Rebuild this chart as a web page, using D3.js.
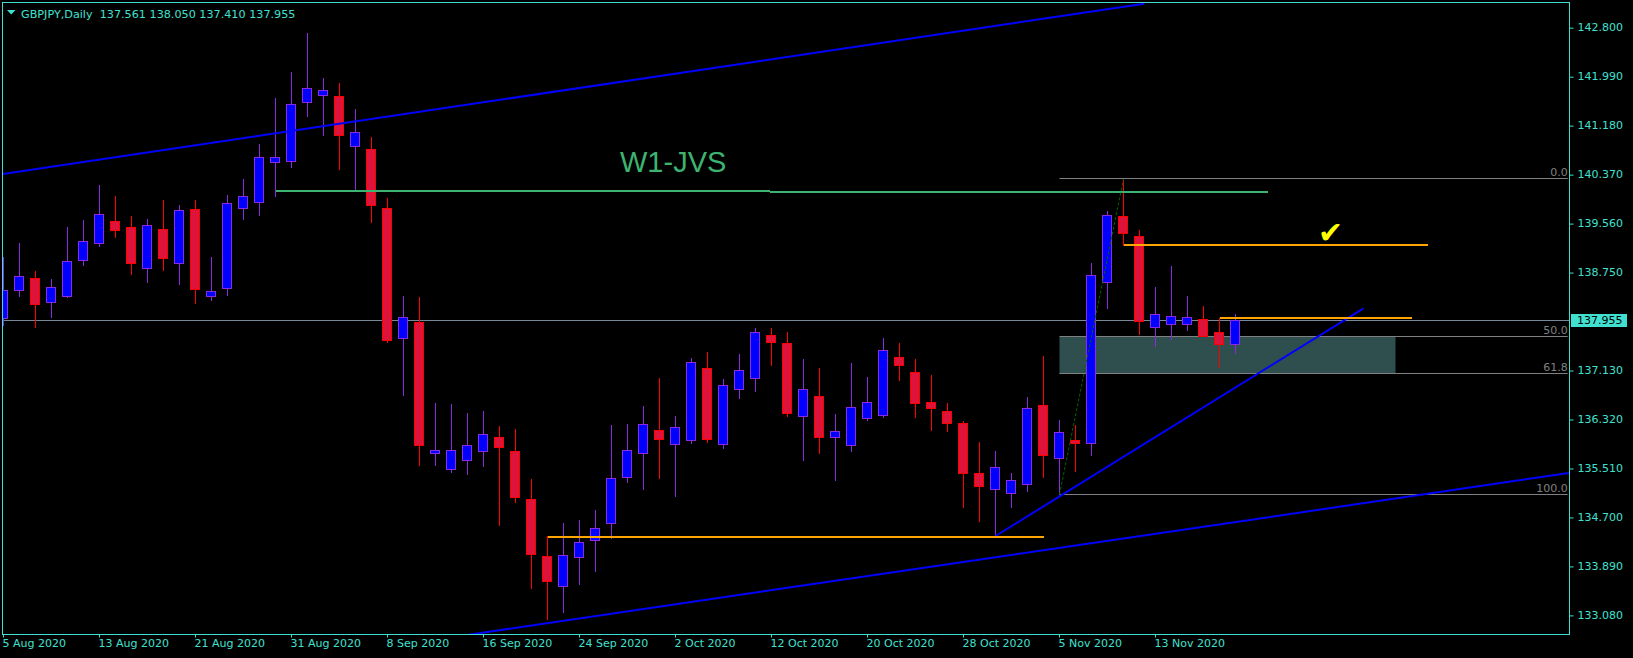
<!DOCTYPE html>
<html><head><meta charset="utf-8">
<script src="https://cdn.jsdelivr.net/npm/d3@7"></script>
<style>
html,body{margin:0;padding:0;background:#000;overflow:hidden;}
svg{display:block;}
</style></head><body>
<svg id="chart" width="1633" height="658"></svg>
<script>
// ---------- data ----------
const dates = ["5 Aug 2020","6 Aug 2020","7 Aug 2020","10 Aug 2020","11 Aug 2020","12 Aug 2020","13 Aug 2020","14 Aug 2020","17 Aug 2020","18 Aug 2020","19 Aug 2020","20 Aug 2020","21 Aug 2020","24 Aug 2020","25 Aug 2020","26 Aug 2020","27 Aug 2020","28 Aug 2020","31 Aug 2020","1 Sep 2020","2 Sep 2020","3 Sep 2020","4 Sep 2020","7 Sep 2020","8 Sep 2020","9 Sep 2020","10 Sep 2020","11 Sep 2020","14 Sep 2020","15 Sep 2020","16 Sep 2020","17 Sep 2020","18 Sep 2020","21 Sep 2020","22 Sep 2020","23 Sep 2020","24 Sep 2020","25 Sep 2020","28 Sep 2020","29 Sep 2020","30 Sep 2020","1 Oct 2020","2 Oct 2020","5 Oct 2020","6 Oct 2020","7 Oct 2020","8 Oct 2020","9 Oct 2020","12 Oct 2020","13 Oct 2020","14 Oct 2020","15 Oct 2020","16 Oct 2020","19 Oct 2020","20 Oct 2020","21 Oct 2020","22 Oct 2020","23 Oct 2020","26 Oct 2020","27 Oct 2020","28 Oct 2020","29 Oct 2020","30 Oct 2020","2 Nov 2020","3 Nov 2020","4 Nov 2020","5 Nov 2020","6 Nov 2020","9 Nov 2020","10 Nov 2020","11 Nov 2020","12 Nov 2020","13 Nov 2020","16 Nov 2020","17 Nov 2020","18 Nov 2020","19 Nov 2020","20 Nov 2020"];
const open  = [137.993,138.456,138.655,138.258,138.357,138.953,139.234,139.598,139.498,138.820,139.465,138.903,139.796,138.357,138.489,139.813,139.912,140.574,140.590,141.566,141.682,141.654,140.838,140.789,139.813,137.663,137.927,135.760,135.496,135.645,135.793,136.025,135.793,135.000,134.057,133.561,134.040,134.321,134.603,135.363,135.760,136.141,135.909,135.975,137.166,135.909,136.819,137.001,137.712,137.580,136.372,136.703,136.025,135.893,136.339,136.389,137.348,137.100,136.604,136.455,136.257,135.430,135.165,135.099,135.248,136.554,135.678,135.975,135.926,138.589,139.680,139.350,137.844,137.894,137.894,137.977,137.762,137.561];
const high  = [139.007,139.239,138.776,138.643,139.503,139.619,140.198,140.016,139.685,139.636,139.950,139.862,139.950,139.007,140.028,140.297,140.860,141.621,142.051,142.707,141.963,141.869,141.439,140.992,139.983,138.362,138.346,136.592,136.576,136.422,136.460,136.212,136.157,135.330,134.381,134.608,134.657,134.823,136.228,136.245,136.543,137.006,136.377,137.332,137.436,136.989,137.403,137.828,137.833,137.767,137.315,137.166,136.410,137.254,137.017,137.667,137.585,137.315,137.055,136.592,136.283,135.942,135.798,135.435,136.692,137.370,136.311,136.228,138.903,139.768,140.292,139.442,138.511,138.858,138.362,138.197,137.993,138.050];
const low   = [137.882,138.351,137.838,138.003,138.334,138.863,139.178,139.326,138.714,138.582,138.781,138.549,138.235,138.284,138.367,139.624,139.690,140.005,140.484,141.328,141.014,140.463,140.115,139.570,137.601,136.725,135.555,135.555,135.440,135.406,135.539,134.563,134.943,133.521,133.020,133.124,133.587,133.802,134.348,135.274,135.158,135.340,135.043,135.926,135.942,135.843,136.670,136.786,137.209,136.366,135.638,135.754,135.307,135.787,136.300,136.349,136.961,136.349,136.134,136.118,134.861,134.629,134.393,134.861,135.125,135.357,135.082,135.456,135.721,138.152,139.206,137.722,137.524,137.646,137.800,137.701,137.176,137.410];
const close = [138.456,138.688,138.225,138.506,138.936,139.267,139.713,139.449,138.903,139.531,138.979,139.780,138.473,138.440,139.895,140.011,140.656,140.656,141.533,141.798,141.764,141.020,141.070,139.856,137.623,138.010,135.893,135.810,135.810,135.893,136.075,135.860,135.026,134.083,133.643,134.073,134.288,134.520,135.347,135.810,136.240,135.992,136.190,137.266,135.992,136.885,137.133,137.762,137.596,136.422,136.819,136.025,136.124,136.521,136.604,137.464,137.216,136.581,136.498,136.257,135.430,135.208,135.529,135.314,136.505,135.727,136.108,135.926,138.704,139.697,139.399,137.944,138.059,138.026,138.010,137.701,137.557,137.955];

const timeTickIndex = [0,6,12,18,24,30,36,42,48,54,60,66,72];
const priceTicks = [142.800,141.990,141.180,140.370,139.560,138.750,137.130,136.320,135.510,134.700,133.890,133.080];
const symbolLabel = "GBPJPY,Daily";
const headerOHLC = [137.561, 138.050, 137.410, 137.955];
const bidPrice = 137.955;

// drawing objects: [barIndex, price]
const channelTop    = [[-0.2, 140.374], [71.3, 143.197]];
const channelBottom = [[29.0, 132.758], [97.84, 135.435]];
const supportLine   = [[62.0, 134.393], [85.0, 138.159]];
const jvsLines      = [
  [[17.0, 140.104], [47.9, 140.104]],
  [[47.9, 140.087], [79.0, 140.087]]
];
const orangeLines   = [
  [[34.0, 134.381], [65.03, 134.381]],
  [[70.0, 139.206], [89.01, 139.206]],
  [[76.03, 138.004], [88.01, 138.004]]
];
const fibAnchor = [[66, 135.080], [70, 140.300]];   // low -> high
const fibLevels = [0, 50, 61.8, 100];
const fibLabels = ["0.0", "50.0", "61.8", "100.0"];
const fibEndIndex = 97.76;
const zoneRange = [66, 87];        // bar span of shaded zone (between 50 and 61.8)
const textLabel = "W1-JVS";
const checkMark = "\u2714";

// ---------- layout ----------
const svg = d3.select("#chart");
const plot = {left: 2, top: 2, right: 1569, bottom: 634};
const AXIS = "#40E0D0";
const x = d3.scaleLinear().domain([0, 77]).range([3.5, 1235.5]);
const y = d3.scaleLinear().domain([133.08, 142.8]).range([615.4, 27.7]);
const snap = v => Math.floor(v) + 0.5;

svg.append("rect").attr("width", 1633).attr("height", 658).attr("fill", "#000");

svg.append("defs").append("clipPath").attr("id", "clip")
  .append("rect").attr("x", plot.left + 1).attr("y", plot.top + 1)
  .attr("width", plot.right - plot.left - 1).attr("height", plot.bottom - plot.top - 1);

const g = svg.append("g").attr("clip-path", "url(#clip)");

// shaded zone
const fibPrice = lv => fibAnchor[1][1] - (fibAnchor[1][1] - fibAnchor[0][1]) * lv / 100;
g.append("rect")
  .attr("x", x(zoneRange[0])).attr("width", x(zoneRange[1]) - x(zoneRange[0]))
  .attr("y", y(fibPrice(50))).attr("height", y(fibPrice(61.8)) - y(fibPrice(50)))
  .attr("fill", "#2F4F4F");

// bid line
g.append("line").attr("x1", plot.left).attr("x2", plot.right)
  .attr("y1", snap(y(bidPrice))).attr("y2", snap(y(bidPrice)))
  .attr("stroke", "#778899").attr("stroke-width", 1);

// fib lines
fibLevels.forEach((lv, k) => {
  const yy = snap(y(fibPrice(lv)));
  g.append("line").attr("x1", x(fibAnchor[0][0])).attr("x2", x(fibEndIndex))
    .attr("y1", yy).attr("y2", yy).attr("stroke", "#808080").attr("stroke-width", 1);
  g.append("text").attr("x", x(fibEndIndex)).attr("y", yy - 2.5)
    .attr("text-anchor", "end").attr("fill", "#808080")
    .attr("font-family", "DejaVu Sans").attr("font-size", 11).text(fibLabels[k]);
});

// candles
const idx = d3.range(open.length);
const UP_EDGE = "#8A2BE2", UP_BODY = "#0000FF", DN_EDGE = "#FF0000", DN_BODY = "#DC143C";
const cg = g.append("g");
cg.selectAll("line.wick").data(idx).join("line")
  .attr("class", "wick")
  .attr("x1", i => x(i)).attr("x2", i => x(i))
  .attr("y1", i => Math.floor(y(high[i]))).attr("y2", i => Math.floor(y(low[i])) + 1)
  .attr("stroke", i => close[i] >= open[i] ? UP_EDGE : DN_EDGE).attr("stroke-width", 1);
cg.selectAll("rect.body").data(idx).join("rect")
  .attr("class", "body")
  .attr("x", i => x(i) - 5).attr("width", 9)
  .attr("y", i => snap(y(Math.max(open[i], close[i]))))
  .attr("height", i => Math.max(1, snap(y(Math.min(open[i], close[i]))) - snap(y(Math.max(open[i], close[i])))))
  .attr("fill", i => close[i] >= open[i] ? UP_BODY : DN_BODY)
  .attr("stroke", i => close[i] >= open[i] ? UP_EDGE : DN_EDGE).attr("stroke-width", 1);

// trend lines
const seg = (pts, color, w, dash) => {
  const l = g.append("line")
    .attr("x1", x(pts[0][0])).attr("y1", y(pts[0][1]))
    .attr("x2", x(pts[1][0])).attr("y2", y(pts[1][1]))
    .attr("stroke", color).attr("stroke-width", w);
  if (dash) l.attr("stroke-dasharray", dash);
  return l;
};
seg(channelTop, "#0000FF", 2);
seg(channelBottom, "#0000FF", 2);
seg(supportLine, "#0000FF", 2);
jvsLines.forEach(p => seg(p, "#3CB371", 2).attr("shape-rendering", "crispEdges"));
orangeLines.forEach(p => seg(p, "#FFA500", 2).attr("shape-rendering", "crispEdges"));
seg(fibAnchor, "#006400", 1, "3,2");

// texts on chart
svg.append("text").attr("x", 620).attr("y", 171.5)
  .attr("font-family", "Liberation Sans, Arial, sans-serif").attr("font-size", 29)
  .attr("fill", "#3CB371").text(textLabel);
svg.append("text").attr("x", 1318).attr("y", 243)
  .attr("font-family", "DejaVu Sans").attr("font-size", 30)
  .attr("fill", "#FFFF00").text(checkMark);

// frame
svg.append("rect").attr("x", plot.left + 0.5).attr("y", plot.top + 0.5)
  .attr("width", plot.right - plot.left).attr("height", plot.bottom - plot.top)
  .attr("fill", "none").attr("stroke", AXIS).attr("stroke-width", 1);

// right axis
const ya = svg.append("g").attr("transform", `translate(${plot.right + 0.5},0)`)
  .call(d3.axisRight(y).tickValues(priceTicks).tickFormat(d3.format(".3f"))
    .tickSize(4).tickPadding(4).offset(0));
ya.select(".domain").remove();
ya.selectAll(".tick line").attr("stroke", AXIS).attr("transform", "translate(0,0.5)");
ya.selectAll(".tick text").attr("fill", AXIS).attr("font-family", "DejaVu Sans").attr("font-size", 11);

// bid label
const by = y(bidPrice);
svg.append("rect").attr("x", 1571).attr("y", Math.round(by) - 7).attr("width", 56).attr("height", 13)
  .attr("fill", AXIS);
svg.append("text").attr("x", 1577).attr("y", Math.round(by) - 0.5).attr("dy", "0.35em")
  .attr("font-family", "DejaVu Sans").attr("font-size", 11).attr("fill", "#000")
  .text(d3.format(".3f")(bidPrice));

// bottom axis
const xa = svg.append("g").attr("transform", `translate(0,${plot.bottom + 0.5})`)
  .call(d3.axisBottom(x).tickValues(timeTickIndex).tickFormat(i => dates[i])
    .tickSize(3).tickPadding(2).offset(0));
xa.select(".domain").remove();
xa.selectAll(".tick line").attr("stroke", AXIS);
xa.selectAll(".tick text").attr("fill", AXIS).attr("font-family", "DejaVu Sans")
  .attr("font-size", 11).attr("text-anchor", "start").attr("x", -1);

// header
svg.append("path").attr("d", "M7,10 L15.5,10 L11.25,14.5 Z").attr("fill", AXIS);
svg.append("text").attr("x", 21).attr("y", 17.5).attr("xml:space", "preserve")
  .style("white-space", "pre")
  .attr("font-family", "DejaVu Sans").attr("font-size", 11.2).attr("fill", AXIS)
  .text(symbolLabel + "  " + headerOHLC.map(d3.format(".3f")).join(" "));
</script>
</body></html>
